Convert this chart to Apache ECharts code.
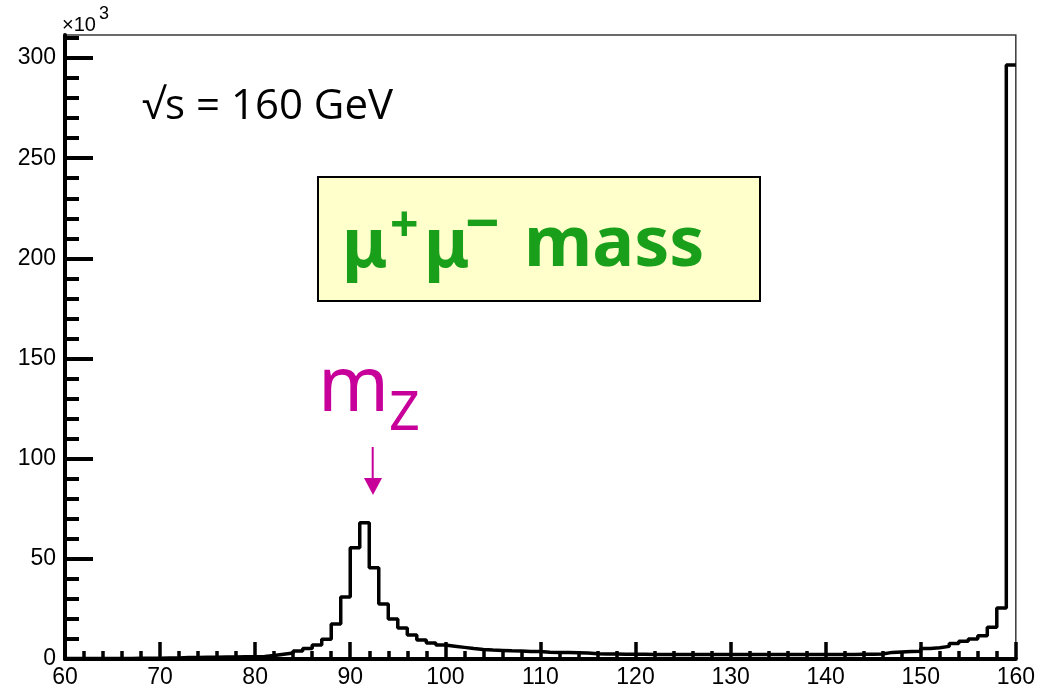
<!DOCTYPE html>
<html>
<head>
<meta charset="utf-8">
<script src="https://cdn.jsdelivr.net/npm/echarts@6/dist/echarts.min.js"></script>
<style>
  html, body { margin: 0; padding: 0; background: #fff; }
  #chart { width: 1038px; height: 689px; }
</style>
</head>
<body>
<div id="chart"></div>
<script>
// Dimuon invariant mass histogram, 1 GeV bins from 60 to 160 GeV (counts in units of 10^3)
const binLow = 60;
const binWidth = 1;
const counts = [
  // 60 - 71
  0.2, 0.2, 0.2, 0.3, 0.3, 0.3, 0.3, 0.4, 0.4, 0.4, 0.5, 0.5,
  // 72 - 79
  0.8, 0.8, 0.9, 0.9, 1.0, 1.0, 1.1, 1.1,
  // 80 - 89
  1.3, 1.7, 2.4, 3.0, 4.0, 5.3, 7.0, 9.8, 17.5, 31.0,
  // 90 - 99
  55.5, 68.0, 45.5, 27.5, 20.0, 15.5, 12.0, 9.5, 8.0, 7.0,
  // 100 - 109
  6.4, 5.8, 5.2, 4.8, 4.5, 4.3, 4.1, 4.0, 3.8, 3.7,
  // 110 - 119
  3.4, 3.3, 3.2, 3.1, 3.0, 2.6, 2.5, 2.5, 2.4, 2.4,
  // 120 - 129
  2.4, 2.3, 2.3, 2.3, 2.3, 2.2, 2.2, 2.2, 2.2, 2.2,
  // 130 - 139
  2.2, 2.2, 2.2, 2.2, 2.2, 2.2, 2.2, 2.2, 2.3, 2.3,
  // 140 - 149
  2.3, 2.3, 2.3, 2.4, 2.4, 2.5, 3.3, 3.5, 3.7, 3.9,
  // 150 - 159
  5.3, 5.6, 6.3, 7.7, 8.8, 10.0, 11.6, 15.8, 25.5, 296.5
];

const xTickLabels = [60, 70, 80, 90, 100, 110, 120, 130, 140, 150, 160];
const yTickLabels = [0, 50, 100, 150, 200, 250, 300];
const yMinorTicks = [10, 20, 30, 40, 60, 70, 80, 90, 110, 120, 130, 140, 160, 170, 180, 190,
                     210, 220, 230, 240, 260, 270, 280, 290, 310];
const yTop = 311.5;

// Step outline through the bin edges: each bin's value is held across its width
const stepData = counts.map((v, i) => [binLow + i * binWidth, v]);
stepData.push([binLow + counts.length * binWidth, counts[counts.length - 1]]);

const labelFont = { color: '#000', fontFamily: '"Liberation Sans", Arial, sans-serif', fontSize: 23 };

const green = '#1a9f1a';
const magenta = '#c8009a';

const chart = echarts.init(document.getElementById('chart'), null, { renderer: 'canvas' });

chart.setOption({
  animation: false,
  backgroundColor: '#fff',
  grid: {
    left: 65, right: 21, top: 35, bottom: 30,
    show: true, borderColor: '#3a3a3a', borderWidth: 1.5, backgroundColor: 'transparent'
  },
  xAxis: {
    type: 'value',
    min: xTickLabels[0],
    max: xTickLabels[xTickLabels.length - 1],
    interval: 10,
    axisLine: { show: true, onZero: false, lineStyle: { color: '#000', width: 4 } },
    axisTick: { show: true, inside: true, length: 17, lineStyle: { color: '#000', width: 3.5 } },
    minorTick: { show: true, splitNumber: 5, length: 8, lineStyle: { color: '#000', width: 3.5 } },
    splitLine: { show: false },
    axisLabel: Object.assign({ margin: 7 }, labelFont)
  },
  yAxis: [
    {
      type: 'value',
      min: 0,
      max: yTop,
      interval: 50,
      axisLine: { show: true, onZero: false, lineStyle: { color: '#000', width: 4 } },
      axisTick: { show: true, inside: true, length: 28, customValues: yTickLabels,
                  lineStyle: { color: '#000', width: 4 } },
      splitLine: { show: false },
      axisLabel: Object.assign({ margin: 9, customValues: yTickLabels }, labelFont)
    },
    {
      type: 'value',
      min: 0,
      max: yTop,
      position: 'left',
      axisLine: { show: false },
      axisTick: { show: true, inside: true, length: 14, customValues: yMinorTicks,
                  lineStyle: { color: '#000', width: 4 } },
      splitLine: { show: false },
      axisLabel: { show: false }
    }
  ],
  series: [{
    type: 'line',
    step: 'end',
    data: stepData,
    showSymbol: false,
    symbol: 'none',
    lineStyle: { color: '#000', width: 3.5 },
    z: 3
  }],
  graphic: [
    // axis multiplier
    { type: 'text', left: 62, top: 15, z: 10,
      style: { text: '×10', font: '20px "Liberation Sans", Arial, sans-serif', fill: '#000' } },
    { type: 'text', left: 99, top: 5, z: 10,
      style: { text: '3', font: '18px "Liberation Sans", Arial, sans-serif', fill: '#000' } },
    // centre-of-mass energy
    { type: 'text', left: 142, top: 86, z: 10,
      style: { text: '√s = 160 GeV', font: '42px "Open Sans", "Noto Sans", sans-serif', fill: '#000' } },
    // title box
    { type: 'rect', z: 10,
      shape: { x: 318, y: 177, width: 442, height: 124 },
      style: { fill: '#ffffcc', stroke: '#000', lineWidth: 2 } },
    { type: 'text', x: 342, y: 214, z: 11,
      style: { text: 'μ', font: 'bold 68px "Noto Sans", sans-serif', fill: green } },
    { type: 'text', x: 390, y: 203, z: 11,
      style: { text: '+', font: 'bold 50px "Noto Sans", sans-serif', fill: green } },
    { type: 'text', x: 424, y: 214, z: 11,
      style: { text: 'μ', font: 'bold 68px "Noto Sans", sans-serif', fill: green } },
    { type: 'text', x: 465, y: 197, z: 11,
      style: { text: '−', font: 'bold 60px "Noto Sans", sans-serif', fill: green } },
    { type: 'text', x: 524, y: 211, z: 11,
      style: { text: 'mass', font: 'bold 70px "Noto Sans", sans-serif', fill: green } },
    // Z peak annotation
    { type: 'text', x: 318, y: 351, z: 11,
      style: { text: 'm', font: '76px "Noto Sans", sans-serif', fill: magenta } },
    { type: 'text', x: 389, y: 388, z: 11,
      style: { text: 'Z', font: '54px "Noto Sans", sans-serif', fill: magenta } },
    { type: 'line', z: 11,
      shape: { x1: 372.7, y1: 447, x2: 372.7, y2: 481 },
      style: { stroke: magenta, lineWidth: 2 } },
    { type: 'polygon', z: 11,
      shape: { points: [[364, 478], [382, 478], [373, 495]] },
      style: { fill: magenta } }
  ]
});
</script>
</body>
</html>
